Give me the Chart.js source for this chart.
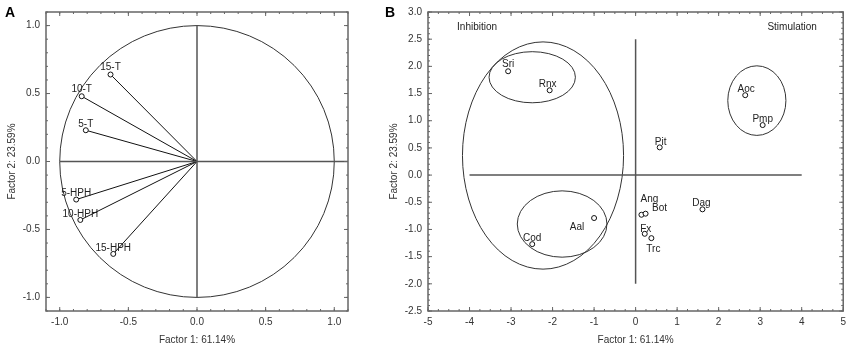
<!DOCTYPE html>
<html>
<head>
<meta charset="utf-8">
<script src="https://cdn.jsdelivr.net/npm/chart.js@4.4.1/dist/chart.umd.min.js"></script>
<style>
  html, body { margin: 0; padding: 0; background: #fff; }
  #chartA { position: absolute; left: 0; top: 0; }
  #chartB { position: absolute; left: 380px; top: 0; }
</style>
</head>
<body>
<canvas id="chartA" width="380" height="348"></canvas>
<canvas id="chartB" width="471" height="348"></canvas>
<script>
// A) loadings of the variables on factor 1 / factor 2
const loadLabels = ['15-T', '10-T', '5-T', '5-HPH', '10-HPH', '15-HPH'];
const loadF1     = [-0.63, -0.84, -0.81, -0.88, -0.85, -0.61];
const loadF2     = [ 0.64,  0.48,  0.23, -0.28, -0.43, -0.68];
const ticksA     = [-1.0, -0.5, 0.0, 0.5, 1.0];
const axisA_x    = [[-1, 0], [1.1, 0]];   // horizontal reference line
const axisA_y    = [[0, 1], [0, -1]];     // vertical reference line

// B) cases (species) on factor 1 / factor 2
const caseLabels = ['Sri', 'Rnx', 'Aal', 'Cod', 'Aoc', 'Pmp', 'Pit', 'Ang', 'Bot', 'Dag', 'Fx', 'Trc'];
const caseF1     = [-3.07, -2.07, -1.00, -2.49, 2.64, 3.06, 0.58, 0.14, 0.24, 1.61, 0.22, 0.38];
const caseF2     = [ 1.91,  1.56, -0.79, -1.27, 1.47, 0.92, 0.51, -0.73, -0.71, -0.63, -1.08, -1.16];
const ticksBx    = [-5, -4, -3, -2, -1, 0, 1, 2, 3, 4, 5];
const ticksBy    = [-2.5, -2.0, -1.5, -1.0, -0.5, 0.0, 0.5, 1.0, 1.5, 2.0, 2.5, 3.0];
const axisB_x    = [[-4, 0], [4, 0]];
const axisB_y    = [[0, 2.5], [0, -2]];

// grouping ellipses (center x, center y, radius x, radius y)
const groupCx = [-2.23, -2.49, -1.77, 2.92];
const groupCy = [ 0.36,  1.80, -0.90, 1.37];
const groupRx = [ 1.94,  1.04,  1.08, 0.70];
const groupRy = [ 2.09,  0.47,  0.61, 0.64];

const regionNames = ['Inhibition', 'Stimulation'];
const regionX     = [-4.3, 3.77];
const regionY     = [2.72, 2.72];

const FONT = 'Arial, "Liberation Sans", sans-serif';
const TXT  = '#333';

// label offsets in px (text centre relative to the point)
const offA = [[0, -7], [0, -7], [0, -6], [0, -6], [0, -6], [0, -6]];
const offB = [[0, -7], [-2, -6], [-17, 9], [0, -6], [1, -6], [0, -6], [1, -5], [8, -16], [14, -5], [-1, -6], [1, -5], [2, 11]];

function pts(xs, ys) { return xs.map((v, i) => ({ x: v, y: ys[i] })); }
function seg(p) { return p.map(q => ({ x: q[0], y: q[1] })); }

// frame, inward ticks, ellipses, point labels, panel letter
function decor(cfg) {
  return {
    id: 'decor',
    beforeDatasetsDraw(chart) {
      const { ctx, scales: { x, y } } = chart;
      ctx.save();
      ctx.strokeStyle = '#333';
      ctx.lineWidth = 1;
      (cfg.ellipses || []).forEach(e => {
        const cx = x.getPixelForValue(e[0]), cy = y.getPixelForValue(e[1]);
        const rx = Math.abs(x.getPixelForValue(e[0] + e[2]) - cx);
        const ry = Math.abs(y.getPixelForValue(e[1] + e[3]) - cy);
        ctx.beginPath();
        ctx.ellipse(cx, cy, rx, ry, 0, 0, Math.PI * 2);
        ctx.stroke();
      });
      ctx.restore();
    },
    afterDatasetsDraw(chart) {
      const { ctx, chartArea: a, scales: { x, y } } = chart;
      ctx.save();
      // frame
      ctx.strokeStyle = '#666';
      ctx.lineWidth = 1.5;
      ctx.strokeRect(a.left, a.top, a.right - a.left, a.bottom - a.top);
      // ticks
      ctx.lineWidth = 1;
      const tick = (v, len, horiz) => {
        ctx.beginPath();
        if (horiz) {
          const px = x.getPixelForValue(v);
          ctx.moveTo(px, a.bottom); ctx.lineTo(px, a.bottom - len);
          ctx.moveTo(px, a.top);    ctx.lineTo(px, a.top + len);
        } else {
          const py = y.getPixelForValue(v);
          ctx.moveTo(a.left, py);  ctx.lineTo(a.left + len, py);
          ctx.moveTo(a.right, py); ctx.lineTo(a.right - len, py);
        }
        ctx.stroke();
      };
      for (let v = x.min; v <= x.max + 1e-9; v += cfg.minorX) tick(v, 2, true);
      for (let v = y.min; v <= y.max + 1e-9; v += cfg.minorY) tick(v, 2, false);
      x.ticks.forEach(t => tick(t.value, 4, true));
      y.ticks.forEach(t => tick(t.value, 4, false));

      // point labels
      ctx.fillStyle = '#222';
      ctx.font = '10px ' + FONT;
      ctx.textAlign = 'center';
      ctx.textBaseline = 'middle';
      const meta = chart.getDatasetMeta(cfg.labelDataset);
      meta.data.forEach((el, i) => {
        const o = cfg.offsets[i];
        ctx.fillText(cfg.labels[i], el.x + o[0], el.y + o[1]);
      });

      // region names
      (cfg.regions || []).forEach((r, i) => {
        ctx.textAlign = i === 0 ? 'left' : 'center';
        ctx.fillText(r, x.getPixelForValue(cfg.regionX[i]), y.getPixelForValue(cfg.regionY[i]));
      });

      // panel letter
      ctx.fillStyle = '#000';
      ctx.font = 'bold 14px ' + FONT;
      ctx.textAlign = 'left';
      ctx.textBaseline = 'alphabetic';
      ctx.fillText(cfg.letter, 5, 16.5);
      ctx.restore();
    }
  };
}

function axis(min, max, ticks, fmt, fitW, fitH, title, titlePad, tickPad) {
  return {
    type: 'linear', min, max,
    afterBuildTicks: s => { s.ticks = ticks.map(v => ({ value: v })); },
    afterFit: s => { if (fitW) s.width = fitW; if (fitH) s.height = fitH; },
    grid: { display: false, drawTicks: false },
    border: { display: false },
    ticks: { color: TXT, font: { family: FONT, size: 10 }, padding: tickPad, callback: fmt, autoSkip: false, maxRotation: 0 },
    title: { display: true, text: title, color: TXT, font: { family: FONT, size: 10 }, padding: titlePad }
  };
}

const dot = { pointRadius: 2.5, pointHoverRadius: 2.5, pointBorderWidth: 1, pointBackgroundColor: '#fff', pointBorderColor: '#111', showLine: false };
const refLine = d => ({ data: seg(d), showLine: true, borderColor: '#555', borderWidth: 1.5, pointRadius: 0 });

// ---- Chart A ----
const vecSets = loadF1.map((v, i) => ({
  data: [{ x: 0, y: 0 }, { x: v, y: loadF2[i] }],
  showLine: true, borderColor: '#111', borderWidth: 1, pointRadius: 0
}));

new Chart(document.getElementById('chartA'), {
  type: 'scatter',
  data: {
    datasets: [
      Object.assign({ data: pts(loadF1, loadF2) }, dot),
      refLine(axisA_x),
      refLine(axisA_y),
      ...vecSets
    ]
  },
  options: {
    responsive: false,
    animation: false,
    layout: { padding: { left: 0, top: 10, right: 32, bottom: 0 } },
    plugins: { legend: { display: false }, tooltip: { enabled: false } },
    scales: {
      x: axis(-1.1, 1.1, ticksA, v => v.toFixed(1), 0, 37, 'Factor 1: 61.14%', { top: 0, bottom: 2 }, 5),
      y: axis(-1.1, 1.1, ticksA, v => v.toFixed(1), 46, 0, 'Factor 2: 23.59%', { top: 6, bottom: 0 }, 6)
    }
  },
  plugins: [decor({
    ellipses: [[0, 0, 1, 1]],
    minorX: 0.1, minorY: 0.1,
    labelDataset: 0, labels: loadLabels, offsets: offA,
    letter: 'A'
  })]
});

// ---- Chart B ----
new Chart(document.getElementById('chartB'), {
  type: 'scatter',
  data: {
    datasets: [
      Object.assign({ data: pts(caseF1, caseF2) }, dot),
      refLine(axisB_x),
      refLine(axisB_y)
    ]
  },
  options: {
    responsive: false,
    animation: false,
    layout: { padding: { left: 0, top: 10, right: 6, bottom: 0 } },
    plugins: { legend: { display: false }, tooltip: { enabled: false } },
    scales: {
      x: axis(-5, 5, ticksBx, v => String(v), 0, 37, 'Factor 1: 61.14%', { top: 0, bottom: 2 }, 5),
      y: axis(-2.5, 3.0, ticksBy, v => v.toFixed(1), 48, 0, 'Factor 2: 23.59%', { top: 8, bottom: 0 }, 6)
    }
  },
  plugins: [decor({
    ellipses: groupCx.map((c, i) => [c, groupCy[i], groupRx[i], groupRy[i]]),
    minorX: 0.25, minorY: 0.1,
    labelDataset: 0, labels: caseLabels, offsets: offB,
    regions: regionNames, regionX, regionY,
    letter: 'B'
  })]
});
</script>
</body>
</html>
